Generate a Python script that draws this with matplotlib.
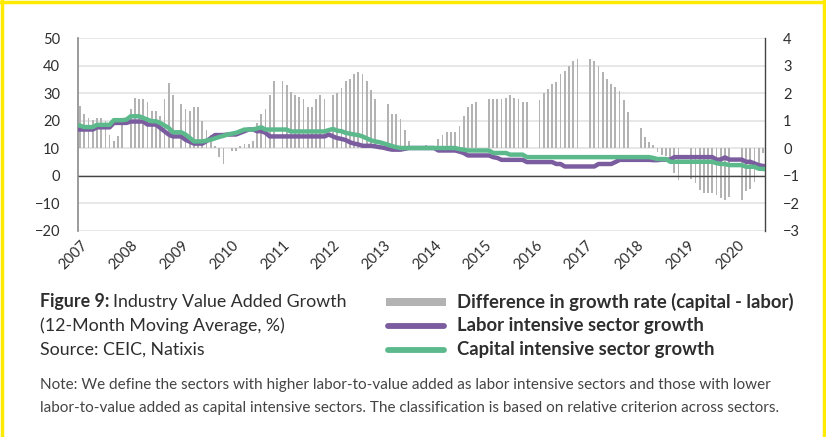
import numpy as np
import matplotlib
matplotlib.use("Agg")
import matplotlib.pyplot as plt
from matplotlib.lines import Line2D
from matplotlib.patches import Rectangle

plt.rcParams['font.family'] = ['Lato', 'DejaVu Sans']

nan = np.nan

# monthly slots, Feb 2007 .. Aug 2020 (one row per calendar year)
years = [str(y) for y in range(2007, 2021)]

# difference in growth rate, capital - labor (right axis, pp)
diff = [
    1.53, 1.26, 1.10, 1.02, 1.10, 1.09, 1.00, 0.50, 0.25, 0.43, 0.85,                 # 2007 Feb-Dec
    nan, 1.43, 1.84, 1.77, 1.77, 1.67, 1.35, 1.35, 1.16, 1.77, 2.35, 1.93,            # 2008
    nan, 1.59, 1.43, 1.35, 1.50, 1.50, 1.00, 0.68, 0.50, 0.10, -0.30, -0.56,          # 2009
    nan, -0.09, -0.09, 0.10, 0.17, 0.17, 0.25, 0.92, 1.26, 1.43, 1.92, 2.44,          # 2010
    nan, 2.44, 2.28, 2.04, 1.92, 1.86, 1.77, 1.50, 1.50, 1.77, 1.92, 1.77,            # 2011
    nan, 1.92, 2.01, 2.17, 2.44, 2.52, 2.68, 2.77, 2.68, 2.44, 2.13, 1.77,            # 2012
    nan, nan, 1.59, 1.26, 1.26, 1.08, 0.68, 0.25, 0.05, 0.02, 0.03, 0.13,             # 2013
    nan, nan, 0.34, 0.50, 0.58, 0.58, 0.58, 0.82, 1.16, 1.50, 1.59, 1.67,             # 2014
    nan, nan, 1.77, 1.77, 1.77, 1.77, 1.83, 1.92, 1.83, 1.77, 1.67, 1.67,             # 2015
    nan, nan, 1.76, 2.02, 2.16, 2.33, 2.42, 2.69, 2.82, 2.97, 3.15, 3.24,             # 2016
    nan, nan, 3.24, 3.17, 3.00, 2.76, 2.50, 2.34, 2.24, 2.08, 1.76, 1.33,             # 2017
    nan, nan, 0.73, 0.41, 0.24, 0.12, -0.15, -0.24, -0.27, -0.47, -0.88, -1.14,       # 2018
    nan, nan, -1.12, -1.26, -1.53, -1.61, -1.61, -1.61, -1.71, -1.80, -1.88, -1.76,   # 2019
    nan, nan, -1.88, -1.56, -1.49, -1.24, -0.53, -0.18,                               # 2020 Jan-Aug
]

# labor intensive sector growth (left axis, %)
labor = [
    16.8, 16.8, 16.8, 16.8, 17.6, 17.6, 17.6, 17.6, 19.2, 19.2, 19.2,
    19.2, 19.7, 19.7, 19.7, 19.7, 18.6, 18.6, 18.6, 17.4, 16.2, 15.0, 14.3,
    14.3, 14.3, 13.1, 12.4, 11.7, 11.7, 11.7, 12.6, 13.7, 14.8, 14.8, 14.8,
    15.0, 15.0, 15.0, 15.6, 16.2, 16.8, 16.8, 16.2, 16.2, 15.6, 14.3, 14.3,
    14.3, 14.3, 14.3, 14.3, 14.3, 14.3, 14.3, 14.3, 14.3, 14.3, 14.3, 14.3,
    15.0, 14.3, 13.7, 13.4, 13.0, 12.2, 11.7, 11.4, 10.9, 10.9, 10.9, 10.7,
    10.4, 10.2, 9.8, 9.5, 9.5, 9.5, 9.8, 10.1, 10.1, 10.1, 10.1, 10.1,
    10.1, 10.1, 9.2, 9.2, 9.2, 9.2, 9.2, 8.8, 8.3, 7.4, 7.4, 7.4,
    7.4, 7.4, 7.4, 6.8, 6.5, 5.8, 5.8, 5.8, 5.8, 5.8, 5.8, 5.0,
    5.0, 5.0, 5.0, 5.0, 5.0, 5.0, 4.3, 4.3, 3.4, 3.4, 3.4, 3.4,
    3.4, 3.4, 3.4, 3.4, 4.3, 4.3, 4.3, 4.3, 5.0, 5.8, 5.8, 5.8,
    5.8, 5.8, 5.8, 5.8, 5.8, 5.7, 5.7, 5.9, 5.9, 5.9, 6.8, 6.8,
    6.8, 6.8, 6.8, 6.8, 6.8, 6.8, 6.8, 6.8, 5.9, 5.9, 6.7, 5.9,
    5.9, 5.9, 5.9, 5.1, 5.1, 4.5, 3.9, 3.6,
]

# capital intensive sector growth (left axis, %)
capital = [
    18.2, 17.7, 17.7, 17.7, 18.5, 18.5, 18.5, 18.5, 20.2, 20.2, 20.2,
    20.4, 21.6, 21.6, 21.6, 21.0, 20.4, 19.8, 19.8, 19.2, 18.3, 17.4, 15.8,
    15.8, 15.8, 15.0, 13.8, 12.5, 12.5, 12.5, 12.8, 13.1, 13.6, 14.1, 14.5,
    15.0, 15.3, 15.6, 16.2, 16.8, 16.8, 16.8, 17.2, 17.6, 16.8, 16.8, 16.8,
    16.8, 16.8, 16.8, 16.1, 16.1, 16.1, 16.1, 16.1, 16.1, 16.1, 16.1, 16.1,
    16.6, 17.0, 16.4, 16.2, 15.6, 15.3, 15.0, 14.8, 14.3, 13.6, 12.9, 12.5,
    12.2, 11.8, 11.3, 10.8, 10.4, 10.1, 10.1, 10.1, 10.1, 10.1, 10.1, 10.1,
    10.1, 10.1, 10.1, 10.1, 10.1, 10.1, 10.1, 9.7, 9.5, 9.2, 9.2, 9.2,
    9.2, 9.2, 9.2, 8.3, 8.3, 8.3, 8.3, 7.7, 7.7, 7.7, 7.7, 6.8,
    6.8, 6.8, 6.8, 6.8, 6.8, 6.8, 6.8, 6.8, 6.8, 6.8, 6.8, 6.8,
    6.8, 6.8, 6.8, 6.8, 6.8, 6.8, 6.8, 6.8, 6.8, 6.8, 6.8, 6.8,
    6.8, 6.8, 6.8, 6.8, 6.8, 6.5, 6.1, 6.1, 6.1, 5.1, 5.1, 5.1,
    5.1, 5.1, 5.1, 5.1, 5.1, 5.1, 5.1, 5.1, 4.6, 4.3, 4.3, 3.9,
    3.9, 3.9, 3.9, 3.3, 3.3, 3.3, 2.6, 2.5,
]

GRAY = '#b3b3b3'
PURPLE = '#7a5c9f'
GREEN = '#5bb98c'
TXT = '#2e2e2e'

W, H = 826, 437
fig = plt.figure(figsize=(W / 100, H / 100), dpi=100)
fig.patch.set_facecolor('white')

ax2 = fig.add_axes([78 / W, 1 - 231 / H, (765 - 78) / W, (231 - 38) / H])
ax = ax2.twinx()
ax.yaxis.set_ticks_position('left')
ax2.yaxis.set_ticks_position('right')
ax.set_zorder(ax2.get_zorder() + 1)
ax.patch.set_visible(False)

x = np.arange(len(diff))

# bars on the right-hand scale
ax2.bar(x, diff, width=0.42, color=GRAY, zorder=2)
ax2.set_ylim(-3, 4)
ax2.set_yticks(range(-3, 5))
ax2.grid(axis='y', color='#e3e3e3', lw=1.2, zorder=0)
ax2.set_axisbelow(True)

# growth lines on the left-hand scale
ax.plot(x, labor, color=PURPLE, lw=3.2, solid_joinstyle='round', zorder=3)
ax.plot(x, capital, color=GREEN, lw=3.2, solid_joinstyle='round', zorder=4)
ax.axhline(0, color='#444444', lw=1.0, zorder=2)
ax.set_ylim(-20, 50)
ax.set_yticks(range(-20, 51, 10))

ax.set_xlim(-0.5, len(diff) - 0.5)
ax2.set_xticks(np.arange(0, len(diff), 12))
ax2.set_xticklabels(years, rotation=45, ha='right', rotation_mode='anchor')

for a in (ax, ax2):
    for s in ('top', 'bottom'):
        a.spines[s].set_visible(False)
    a.tick_params(length=0, labelsize=10.5, colors=TXT)
ax.tick_params(axis='y', pad=13)
ax2.tick_params(axis='y', pad=13)
ax2.tick_params(axis='x', pad=5)
ax.spines['left'].set_color('#8a8a8a')
ax.spines['left'].set_linewidth(1.2)
ax.spines['right'].set_color('#444444')
ax.spines['right'].set_linewidth(1.0)
ax2.spines['left'].set_visible(False)
ax2.spines['right'].set_visible(False)

# caption
fig.canvas.draw()
r = fig.canvas.get_renderer()
cap_fs = 12.8
t = fig.text(40 / W, 1 - 302 / H, 'Figure 9:', fontsize=cap_fs, fontweight='bold',
             color=TXT, va='center')
bb = t.get_window_extent(renderer=r)
fig.text(bb.x1 / W + 4 / W, 1 - 302 / H, 'Industry Value Added Growth', fontsize=cap_fs,
         color=TXT, va='center')
fig.text(40 / W, 1 - 326 / H, '(12-Month Moving Average, %)', fontsize=cap_fs,
         color=TXT, va='center')
fig.text(40 / W, 1 - 350 / H, 'Source: CEIC, Natixis', fontsize=cap_fs,
         color=TXT, va='center')

# legend: grey block for the bars, rounded strokes for the lines
fig.add_artist(Rectangle((386 / W, 1 - 306 / H), 60 / W, 8 / H, transform=fig.transFigure,
                         facecolor=GRAY, edgecolor='none'))
legend_rows = [
    ('Difference in growth rate (capital - labor)', None),
    ('Labor intensive sector growth', PURPLE),
    ('Capital intensive sector growth', GREEN),
]
for i, (label, col) in enumerate(legend_rows):
    yy = 1 - (302 + 24 * i) / H
    if col is not None:
        fig.add_artist(Line2D([388 / W, 444 / W], [yy, yy], transform=fig.transFigure,
                              color=col, lw=4.2, solid_capstyle='round'))
    fig.text(457 / W, yy, label, fontsize=13.3, fontweight='bold', color=TXT, va='center')

note_lines = [
    'Note: We define the sectors with higher labor-to-value added as labor intensive sectors '
    'and those with lower',
    'labor-to-value added as capital intensive sectors. The classification is based on '
    'relative criterion across sectors.',
]
for i, line in enumerate(note_lines):
    fig.text(40 / W, 1 - (385 + 23 * i) / H, line, fontsize=11, color='#444444', va='center')

# yellow frame on left, top and right
for xs, ys in (([0.002, 0.002], [0, 1]), ([0, 1], [0.996, 0.996]), ([0.997, 0.997], [0, 1])):
    fig.add_artist(Line2D(xs, ys, transform=fig.transFigure, color='#ffea00', lw=2.5))

fig.savefig('out.png', dpi=100)
